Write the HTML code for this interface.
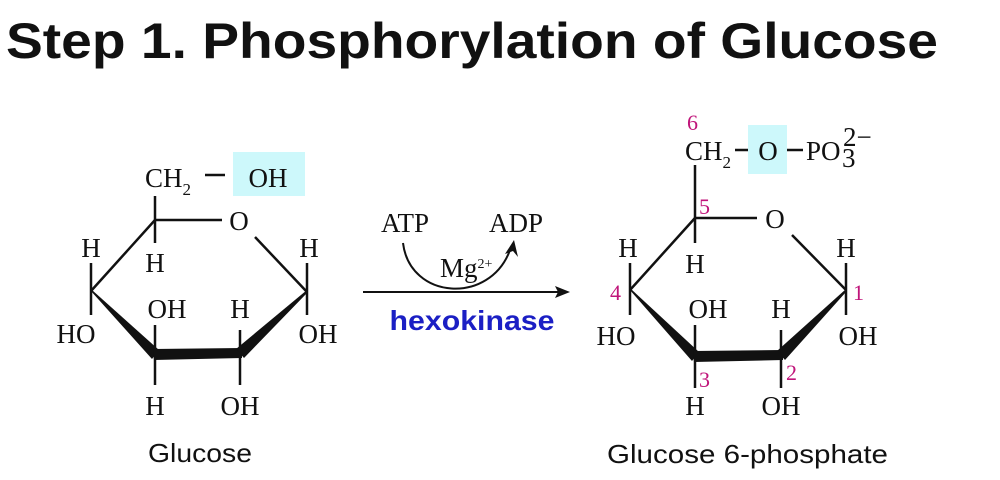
<!DOCTYPE html>
<html><head><meta charset="utf-8"><style>
html,body{margin:0;padding:0;background:#fff}
svg{display:block}
.s{font-family:"Liberation Serif",serif;font-size:27px;fill:#111}
.n{font-family:"Liberation Serif",serif;font-size:22px;fill:#c0157a}
.l{font-family:"Liberation Sans",sans-serif;font-size:26px;fill:#111}
</style></head><body>
<svg width="1000" height="480" viewBox="0 0 1000 480" xmlns="http://www.w3.org/2000/svg">
<text x="6" y="58" font-family="Liberation Sans,sans-serif" font-weight="bold" font-size="50" textLength="932" lengthAdjust="spacingAndGlyphs" fill="#111">Step 1. Phosphorylation of Glucose</text>

<!-- Left glucose -->
<g stroke="#111" stroke-width="2.5" fill="none">
<line x1="155" y1="196" x2="155" y2="243"/>
<line x1="155" y1="220" x2="222" y2="220"/>
<line x1="155" y1="220" x2="91" y2="291"/>
<line x1="91" y1="263" x2="91" y2="315"/>
<line x1="255" y1="237" x2="307" y2="292"/>
<line x1="307" y1="263" x2="307" y2="315"/>
<line x1="155" y1="325" x2="155" y2="385"/>
<line x1="240" y1="330" x2="240" y2="385"/>
<line x1="205" y1="175" x2="225" y2="175"/>
</g>
<polygon points="90,290 92,290 159,350 152,359" fill="#111"/>
<polygon points="153,349 242,348 242,358 154,360" fill="#111"/>
<polygon points="236,349 307,290 307,293 244,358" fill="#111"/>
<rect x="233" y="152" width="72" height="44" fill="#cdf8fb"/>
<text class="s" x="145" y="187">CH<tspan font-size="17" dy="8">2</tspan></text>
<text class="s" x="268" y="187" text-anchor="middle">OH</text>
<text class="s" x="239" y="230" text-anchor="middle">O</text>
<text class="s" x="155" y="272" text-anchor="middle">H</text>
<text class="s" x="91" y="257" text-anchor="middle">H</text>
<text class="s" x="76" y="343" text-anchor="middle">HO</text>
<text class="s" x="167" y="318" text-anchor="middle">OH</text>
<text class="s" x="240" y="318" text-anchor="middle">H</text>
<text class="s" x="309" y="257" text-anchor="middle">H</text>
<text class="s" x="318" y="343" text-anchor="middle">OH</text>
<text class="s" x="155" y="415" text-anchor="middle">H</text>
<text class="s" x="240" y="415" text-anchor="middle">OH</text>
<text class="l" x="148" y="462" textLength="104" lengthAdjust="spacingAndGlyphs">Glucose</text>

<!-- Arrow -->
<line x1="363" y1="292" x2="558" y2="292" stroke="#111" stroke-width="2"/>
<polygon points="570,292 555,286 558,292 555,298" fill="#111"/>
<path d="M403,243 C410,300 490,305 510,250" stroke="#111" stroke-width="2" fill="none"/>
<polygon points="514,240 505,254 513,251 518,257" fill="#111"/>
<text class="s" x="405" y="232" text-anchor="middle">ATP</text>
<text class="s" x="516" y="232" text-anchor="middle">ADP</text>
<text class="s" x="440" y="277" font-size="23">Mg<tspan font-size="14" dy="-9">2+</tspan></text>
<text x="472" y="330" text-anchor="middle" font-family="Liberation Sans,sans-serif" font-weight="bold" font-size="28" fill="#1b1fc4" textLength="165" lengthAdjust="spacingAndGlyphs">hexokinase</text>

<!-- Right G6P -->
<g stroke="#111" stroke-width="2.5" fill="none">
<line x1="695" y1="165" x2="695" y2="243"/>
<line x1="695" y1="218" x2="757" y2="218"/>
<line x1="695" y1="218" x2="630" y2="290"/>
<line x1="630" y1="263" x2="630" y2="315"/>
<line x1="792" y1="235" x2="846" y2="290"/>
<line x1="846" y1="263" x2="846" y2="315"/>
<line x1="695" y1="325" x2="695" y2="388"/>
<line x1="781" y1="330" x2="781" y2="388"/>
<line x1="735" y1="150" x2="752" y2="150"/>
<line x1="787" y1="150" x2="803" y2="150"/>
</g>
<polygon points="629,289 631,289 699,352 692,361" fill="#111"/>
<polygon points="693,351 783,350 783,360 694,362" fill="#111"/>
<polygon points="777,351 846,289 846,292 785,360" fill="#111"/>
<rect x="748" y="125" width="39" height="49" fill="#cdf8fb"/>
<text class="s" x="685" y="160">CH<tspan font-size="17" dy="8">2</tspan></text>
<text class="s" x="768" y="160" text-anchor="middle">O</text>
<text class="s" x="806" y="160">PO</text>
<text class="s" x="843" y="146" font-size="16">2−</text>
<text class="s" x="842" y="167" font-size="16">3</text>
<text class="s" x="775" y="228" text-anchor="middle">O</text>
<text class="s" x="695" y="273" text-anchor="middle">H</text>
<text class="s" x="628" y="257" text-anchor="middle">H</text>
<text class="s" x="616" y="345" text-anchor="middle">HO</text>
<text class="s" x="708" y="318" text-anchor="middle">OH</text>
<text class="s" x="781" y="318" text-anchor="middle">H</text>
<text class="s" x="846" y="257" text-anchor="middle">H</text>
<text class="s" x="858" y="345" text-anchor="middle">OH</text>
<text class="s" x="695" y="415" text-anchor="middle">H</text>
<text class="s" x="781" y="415" text-anchor="middle">OH</text>
<text class="n" x="687" y="130">6</text>
<text class="n" x="699" y="214">5</text>
<text class="n" x="610" y="300">4</text>
<text class="n" x="699" y="387">3</text>
<text class="n" x="786" y="380">2</text>
<text class="n" x="853" y="300">1</text>
<text class="l" x="607" y="463" textLength="281" lengthAdjust="spacingAndGlyphs">Glucose 6-phosphate</text>
</svg>
</body></html>
